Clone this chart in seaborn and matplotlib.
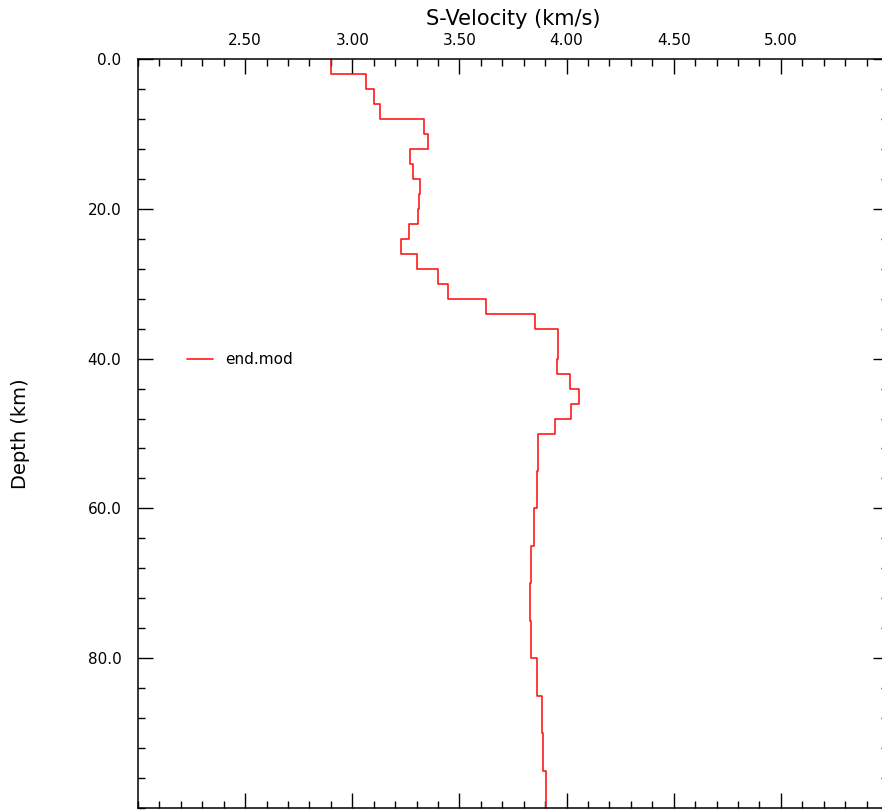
import numpy as np
import pandas as pd
import matplotlib
matplotlib.use("Agg")
import matplotlib.pyplot as plt
import seaborn as sns
from matplotlib.ticker import MultipleLocator, FixedLocator, FormatStrFormatter

# Layer model (end.mod): top depth of each layer (km) and S-velocity (km/s)
layer_top = [0, 2, 4, 6, 8, 10, 12, 14, 16, 18, 20, 22, 24, 26, 28, 30, 32, 34,
             36, 38, 40, 42, 44, 46, 48, 50, 55, 60, 65, 70, 75, 80, 85, 90, 95]
layer_bottom = layer_top[1:] + [100]
s_velocity = [2.90, 3.065, 3.10, 3.128, 3.335, 3.354, 3.27, 3.284, 3.315, 3.312,
              3.305, 3.265, 3.226, 3.302, 3.40, 3.445, 3.626, 3.852, 3.961, 3.959,
              3.956, 4.015, 4.059, 4.023, 3.945, 3.868, 3.860, 3.847, 3.835, 3.827,
              3.835, 3.861, 3.883, 3.889, 3.902]
series_name = "end.mod"

x_ticks = [2.5, 3.0, 3.5, 4.0, 4.5, 5.0]
y_ticks = [0, 20, 40, 60, 80]

# Build the step path from layers
xs, ys = [], []
for v, t, b in zip(s_velocity, layer_top, layer_bottom):
    xs += [v, v]
    ys += [t, b]
df = pd.DataFrame({"velocity": xs, "depth": ys, "model": series_name})

sns.set_style("ticks")
plt.rcParams["font.family"] = ["DejaVu Sans"]
plt.rcParams["text.color"] = "black"
plt.rcParams["axes.labelcolor"] = "black"
plt.rcParams["xtick.color"] = "black"
plt.rcParams["ytick.color"] = "black"

W, H = 882, 810
fig = plt.figure(figsize=(W / 100, H / 100), dpi=100)
ax = fig.add_axes([138 / W, 2 / H, 750 / W, 749 / H])

sns.lineplot(data=df, x="velocity", y="depth", hue="model", palette=["#ff1a1a"],
             sort=False, estimator=None, linewidth=1.2, ax=ax)

ax.set_xlim(2.0, 5.5)
ax.set_ylim(100, 0)

ax.xaxis.set_major_locator(FixedLocator(x_ticks))
ax.xaxis.set_minor_locator(MultipleLocator(0.1))
ax.xaxis.set_major_formatter(FormatStrFormatter("%.2f"))
ax.yaxis.set_major_locator(FixedLocator(y_ticks))
ax.yaxis.set_minor_locator(MultipleLocator(4))
ax.yaxis.set_major_formatter(FormatStrFormatter("%.1f"))

ax.xaxis.tick_top()
ax.xaxis.set_label_position("top")
ax.tick_params(axis="both", which="both", direction="in", top=True, bottom=True,
               left=True, right=True, labeltop=True, labelbottom=False,
               labelleft=True, labelright=False, color="black", labelcolor="black",
               width=1.0)
ax.tick_params(axis="both", which="major", length=11)
ax.tick_params(axis="both", which="minor", length=5)
ax.tick_params(axis="x", which="major", pad=8, labelsize=11)
ax.tick_params(axis="y", which="major", pad=12, labelsize=11)

for s in ax.spines.values():
    s.set_linewidth(1.1)
    s.set_color("black")

ax.set_xlabel("S-Velocity (km/s)", fontsize=15, color="black")
ax.set_ylabel("Depth (km)", fontsize=14, color="black")
ax.xaxis.set_label_coords(0.5, 1 + (59 - 25) / 749)
ax.yaxis.set_label_coords((30 - 138) / 750, 0.5)

leg = ax.legend(loc="center left", bbox_to_anchor=((187 - 138) / 750, 1 - (360 - 59) / 749),
                frameon=False, fontsize=11, borderpad=0, borderaxespad=0,
                handlelength=1.7, handletextpad=0.8, title=None)
for t in leg.get_texts():
    t.set_color("black")

fig.savefig("out.png", dpi=100)
